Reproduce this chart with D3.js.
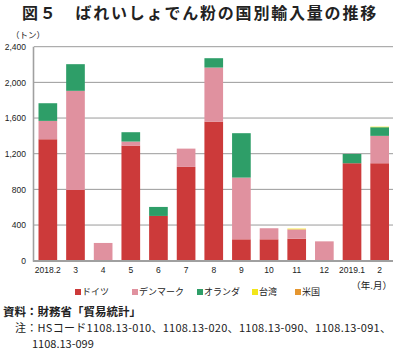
<!DOCTYPE html>
<html>
<head>
<meta charset="utf-8">
<script src="https://cdn.jsdelivr.net/npm/d3@7"></script>
<style>
  html, body { margin: 0; padding: 0; background: #fff; }
  svg { display: block; }
  text { font-family: "Noto Sans CJK JP", "Noto Sans", sans-serif; fill: #222; }
  .tick-num { font-family: "Liberation Sans", Arial, sans-serif; font-size: 8.5px; }
</style>
</head>
<body>
<svg id="chart" width="393" height="352"></svg>
<script>
// ---- data (tons) ----
const months = ['2018.2', '3', '4', '5', '6', '7', '8', '9', '10', '11', '12', '2019.1', '2'];
const germany     = [1362,  793,   0, 1291, 502, 1052, 1560, 240, 240, 247,   0, 1093, 1093];
const denmark     = [ 206, 1112, 199,   45,   0,  205,  606, 692, 124, 105, 217,    0,  307];
const netherlands = [ 198,  299,   0,  105, 101,    0,  105, 498,   0,   0,   0,  104,   97];
const taiwan      = [   0,    0,   0,    0,   0,    0,    0,   0,   0,   8,   0,    0,    6];
const usa         = [   0,    0,   0,    0,   0,    0,    0,   0,   0,   0,   0,    0,    0];
const seriesNames = ['ドイツ', 'デンマーク', 'オランダ', '台湾', '米国'];
const seriesColors = ['#cc3a3a', '#e0919f', '#2e9e68', '#f2e61a', '#e5962f'];
const yTicks = [0, 400, 800, 1200, 1600, 2000, 2400];

(function () {
  const svg = d3.select('#chart');

  const rows = months.map((m, i) => ({
    month: m, s0: germany[i], s1: denmark[i], s2: netherlands[i], s3: taiwan[i], s4: usa[i]
  }));
  const keys = ['s0', 's1', 's2', 's3', 's4'];
  const stacked = d3.stack().keys(keys)(rows);

  const x = d3.scaleBand().domain(months).range([34, 393.5])
    .paddingInner(0.325).paddingOuter(0.163);
  const y = d3.scaleLinear().domain([0, 2400]).range([260.7, 46.7]);

  // ---- title ----
  svg.append('text')
    .attr('x', 22).attr('y', 18.8)
    .attr('font-size', 16).attr('font-weight', 700)
    .style('letter-spacing', '1.8px')
    .text('図５　ばれいしょでん粉の国別輸入量の推移');

  svg.append('text')
    .attr('x', 11).attr('y', 38)
    .attr('font-size', 8.5)
    .text('（トン）');

  // ---- gridlines ----
  svg.append('g')
    .selectAll('line').data(yTicks.filter(d => d > 0)).enter()
    .append('line')
    .attr('x1', 34).attr('x2', 393)
    .attr('y1', d => y(d)).attr('y2', d => y(d))
    .attr('stroke', '#9a9a9a').attr('stroke-width', 1);

  // ---- y axis ----
  const yAxis = svg.append('g')
    .attr('transform', 'translate(34,0)')
    .call(d3.axisLeft(y).tickValues(yTicks).tickSize(0).tickPadding(8)
      .tickFormat(d3.format(',')));
  yAxis.select('.domain').remove();
  yAxis.selectAll('text').attr('class', 'tick-num').attr('font-size', null)
    .attr('font-family', null).attr('fill', '#222');

  // ---- bars ----
  svg.append('g').selectAll('g').data(stacked).enter()
    .append('g')
    .attr('fill', (d, i) => seriesColors[i])
    .selectAll('rect').data(d => d).enter()
    .append('rect')
    .attr('x', d => x(d.data.month))
    .attr('width', x.bandwidth())
    .attr('y', d => y(d[1]))
    .attr('height', d => y(d[0]) - y(d[1]));

  // axis lines
  svg.append('line').attr('x1', 33.5).attr('x2', 33.5).attr('y1', 46.7).attr('y2', 261.7)
    .attr('stroke', '#a0a0a0').attr('stroke-width', 1.6);
  svg.append('line').attr('x1', 33).attr('x2', 393).attr('y1', 261).attr('y2', 261)
    .attr('stroke', '#a0a0a0').attr('stroke-width', 2);

  // ---- x axis ----
  const xAxis = svg.append('g')
    .attr('transform', 'translate(0,262)')
    .call(d3.axisBottom(x).tickSize(0).tickPadding(5));
  xAxis.select('.domain').remove();
  xAxis.selectAll('text').attr('class', 'tick-num').attr('font-size', null)
    .attr('font-family', null).attr('fill', '#222');

  svg.append('text')
    .attr('x', 392).attr('y', 289).attr('text-anchor', 'end')
    .attr('font-size', 9.5)
    .text('（年.月）');

  // ---- legend ----
  const legendX = [75, 132, 197, 252, 295];
  const legend = svg.append('g').selectAll('g').data(seriesNames).enter()
    .append('g')
    .attr('transform', (d, i) => `translate(${legendX[i]},292)`);
  legend.append('rect')
    .attr('x', 0).attr('y', -3).attr('width', 6).attr('height', 6)
    .attr('fill', (d, i) => seriesColors[i]);
  legend.append('text')
    .attr('x', 7).attr('y', 3.3)
    .attr('font-size', 9)
    .text(d => d);

  // ---- notes ----
  svg.append('text')
    .attr('x', 3).attr('y', 315.5)
    .attr('font-size', 11.5).attr('font-weight', 700)
    .text('資料：財務省「貿易統計」');
  svg.append('text')
    .attr('x', 15).attr('y', 332)
    .attr('font-size', 11)
    .attr('textLength', 376).attr('lengthAdjust', 'spacing')
    .text('注：HSコード1108.13-010、1108.13-020、1108.13-090、1108.13-091、');
  svg.append('text')
    .attr('x', 32).attr('y', 347.5)
    .attr('font-size', 11)
    .text('1108.13-099');
})();
</script>
</body>
</html>
